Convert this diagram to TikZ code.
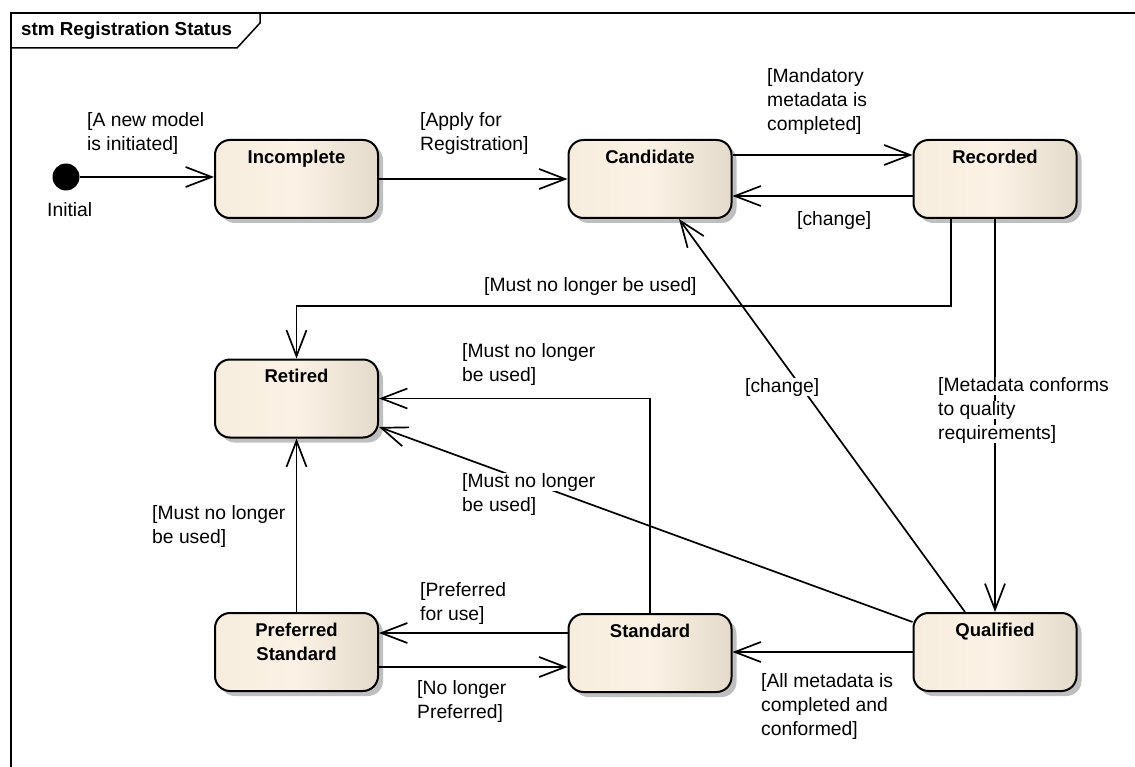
\documentclass[tikz,border=0pt]{standalone}
\usepackage{fontspec}
\setmainfont{Liberation Sans}
\usetikzlibrary{arrows.meta,shadows,calc}
\definecolor{cL}{HTML}{F7EDDE}
\definecolor{cM}{HTML}{FBF2E5}
\definecolor{cR}{HTML}{E4DACB}
\newcommand\lbox[1]{\colorbox{white}{\rule[-4pt]{0pt}{17.5pt}#1}}
\setlength{\fboxsep}{0pt}
\begin{document}
\begin{tikzpicture}[x=1pt,y=-1pt,
  font=\fontsize{19.3}{24}\selectfont,
  state/.style={draw=black, line width=2pt, rounded corners=15pt,
    minimum width=163pt, minimum height=78pt, inner sep=0pt,
    left color=cL, right color=cR, middle color=cM,
    drop shadow={shadow xshift=5pt,shadow yshift=-5pt,fill=black!25,opacity=1}},
  stitle/.style={anchor=north, yshift=-10.5pt, inner sep=0pt, align=center,
    font=\bfseries\fontsize{18.5}{24}\selectfont},
  edge/.style={draw=black, line width=1.7pt,
    -{Straight Barb[length=26pt,width=20pt]}},
  lbl/.style={anchor=north west, inner sep=0pt, align=left}]
\useasboundingbox (0,0) rectangle (1135,767);
% frame
\draw[line width=1.5pt] (11,767) -- (11,13) -- (1135,13);
\draw[line width=1.5pt] (11,48) -- (237,48) -- (260,23) -- (260,13);
\node[anchor=base west, inner sep=0pt, font=\bfseries\fontsize{18.8}{22}\selectfont] (title) at (21,36) {stm Registration Status};
% states
\node[circle, fill=black, minimum size=27pt, inner sep=0pt] (init) at (66,177) {};
\node[anchor=base west, inner sep=0pt] (initlbl) at (47,217) {Initial};
\node[state, label={[stitle]north:Incomplete}] (inc) at (296.5,179) {};
\node[state, label={[stitle]north:Candidate}] (cand) at (650,179) {};
\node[state, label={[stitle]north:Recorded}] (rec) at (995,179) {};
\node[state, label={[stitle]north:Retired}] (ret) at (296.5,398.5) {};
\node[state, label={[stitle]north:{Preferred\\Standard}}] (pref) at (296.5,652) {};
\node[state, label={[stitle]north:Standard}] (std) at (650,653) {};
\node[state, label={[stitle]north:Qualified}] (qual) at (995,652) {};
% transitions
\draw[edge] (init.east) -- (init.east -| inc.west);
\draw[edge] (inc.east) -- (cand.west);
\draw[edge] ([yshift=24pt]cand.east) -- ([yshift=24pt]cand.east -| rec.west);
\draw[edge] ([yshift=-17pt]rec.west) -- ([yshift=-17pt]rec.west -| cand.east);
\draw[edge] ([xshift=-44pt]rec.south) -- ++(0,87) -| (ret.north);
\draw[edge] (rec.south) -- (qual.north);
\draw[edge] ([xshift=-30pt]qual.north) -- ([xshift=29pt]cand.south);
\draw[edge] (std.north) |- (ret.east);
\draw[edge] ([yshift=30pt]qual.west) -- ([yshift=-28.5pt]ret.east);
\draw[edge] (pref.north) -- (ret.south);
\draw[edge] ([yshift=20pt]std.west) -- ([yshift=20pt]std.west -| pref.east);
\draw[edge] ([yshift=-15pt]pref.east) -- ([yshift=-15pt]pref.east -| std.west);
\draw[edge] (qual.west) -- (qual.west -| std.east);
% guards
\node[lbl] (g1) at (87,112) {\lbox{[A new model}\\\lbox{is initiated]}};
\node[lbl] (g2) at (420,112) {\lbox{[Apply for}\\\lbox{Registration]}};
\node[lbl] (g3) at (767,68) {\lbox{[Mandatory}\\\lbox{metadata is}\\\lbox{completed]}};
\node[lbl] (g4) at (797,211) {\lbox{[change]}};
\node[lbl] (g5) at (484,277) {\lbox{[Must no longer be used]}};
\node[lbl] (g6) at (938,377) {\lbox{[Metadata conforms}\\\lbox{to quality}\\\lbox{requirements]}};
\node[lbl] (g7) at (745,378) {\lbox{[change]}};
\node[lbl] (g8) at (462,343) {\lbox{[Must no longer}\\\lbox{be used]}};
\node[lbl] (g9) at (462,473) {\lbox{[Must no longer}\\\lbox{be used]}};
\node[lbl] (g10) at (152,505) {\lbox{[Must no longer}\\\lbox{be used]}};
\node[lbl] (g11) at (420,582) {\lbox{[Preferred}\\\lbox{for use]}};
\node[lbl] (g12) at (417,680) {\lbox{[No longer}\\\lbox{Preferred]}};
\node[lbl] (g13) at (761,673) {\lbox{[All metadata is}\\\lbox{completed and}\\\lbox{conformed]}};
\end{tikzpicture}
\end{document}
